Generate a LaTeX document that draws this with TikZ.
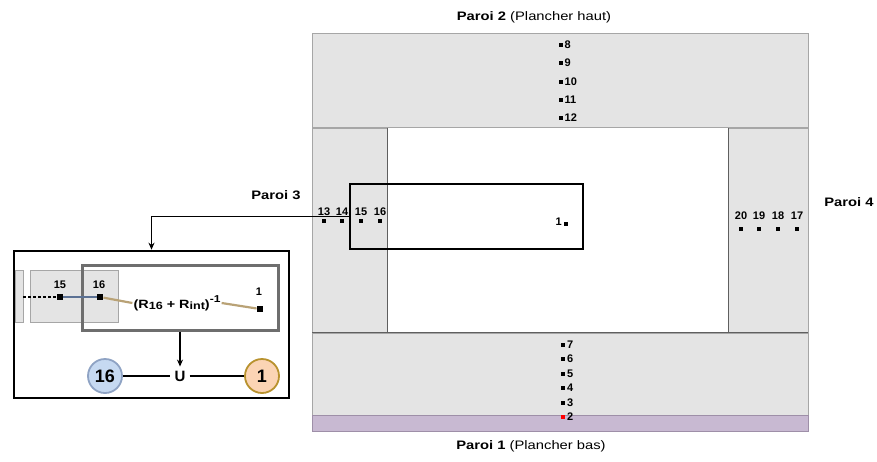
\documentclass[tikz,border=0pt]{standalone}
\usepackage{fontspec}
\setmainfont{Liberation Sans}
\newfontfamily\widefont{Liberation Sans}[FakeStretch=1.2]
\usetikzlibrary{arrows.meta}
\definecolor{panelfill}{HTML}{E4E4E4}
\definecolor{panelline}{HTML}{A6A6A6}
\definecolor{innerline}{HTML}{5F5F5F}
\definecolor{floorfill}{HTML}{C8B9D2}
\definecolor{floorline}{HTML}{9E8FA8}
\definecolor{blueline}{HTML}{5B7194}
\definecolor{tanline}{HTML}{B9A276}
\definecolor{bluefill}{HTML}{C6D9F1}
\definecolor{blueedge}{HTML}{8FA3C4}
\definecolor{peachfill}{HTML}{FBD4B4}
\definecolor{peachedge}{HTML}{B8922E}
\definecolor{boxgray}{HTML}{6E6E6E}
\begin{document}
\begin{tikzpicture}[x=1pt,y=-1pt,
  panel/.style={fill=panelfill, draw=panelline, line width=1pt},
  sq/.style={fill=black, inner sep=0pt, minimum size=4pt},
  bigsq/.style={fill=black, inner sep=0pt, minimum size=6.5pt},
  num/.style={font=\fontsize{11}{12}\selectfont\bfseries, inner sep=0pt},
  title/.style={font=\widefont\fontsize{12.3}{14}\selectfont, inner sep=0pt},
  framebox/.style={draw, line width=2.6pt, inner sep=0pt},
  conn/.style={line width=2pt},
  tip/.style={-{Stealth[length=7pt,width=6pt]}}
]
\useasboundingbox (0,0) rectangle (877,461);
% ---------- room plan ----------
\draw[panel] (312,33) rectangle (808,127);
\draw[panel] (312,128) rectangle (387,332);
\draw[panel] (728,128) rectangle (808,332);
\draw[panel] (312,333) rectangle (808,415);
\draw[fill=floorfill, draw=floorline, line width=1pt] (312,415) rectangle (808,431);
\fill[white] (387.5,128) rectangle (727.5,332);
\draw[innerline, line width=0.8pt] (387,128) -- (387,332);
\draw[innerline, line width=0.8pt] (728,128) -- (728,332);
\draw[innerline, line width=0.8pt] (312,332.5) -- (808,332.5);

% titles
\node[title] (p2) at (534,17) {\textbf{Paroi 2} (Plancher haut)};
\node[title] (p1) at (531,446) {\textbf{Paroi 1} (Plancher bas)};
\node[title] (p3) at (276,195) {\textbf{Paroi 3}};
\node[title] (p4) at (849,202) {\textbf{Paroi 4}};

% top wall 8-12
\foreach \n/\y in {8/45,9/63,10/82,11/100,12/118}{
  \node[sq] (s\n) at (561,\y) {};
  \node[num, anchor=west] (t\n) at (564.5,\y) {\n};
}
% bottom wall 7-3
\foreach \n/\y in {7/344.5,6/359,5/373.5,4/388,3/402.5}{
  \node[sq] (s\n) at (563,\y) {};
  \node[num, anchor=west] (t\n) at (567,\y) {\n};
}
\node[sq, fill=red] (s2) at (563,417) {};
\node[num, anchor=west] (t2) at (567,417) {2};
% left wall 13-16
\foreach \n/\x in {13/324,14/342,15/361,16/380}{
  \node[sq] (s\n) at (\x,221) {};
  \node[num] (t\n) at (\x,211.5) {\n};
}
% right wall 17-20
\foreach \n/\x in {20/741,19/759,18/778,17/797}{
  \node[sq] (s\n) at (\x,229) {};
  \node[num] (t\n) at (\x,216) {\n};
}
% indoor node 1
\node[sq] (s1) at (566,224) {};
\node[num, anchor=east] (t1) at (562,222) {1};

% zoom rectangle
\node[framebox, line width=2.2pt, minimum width=233pt, minimum height=65pt] (zoomrect) at (466.5,216.5) {};

% ---------- detail box ----------
\draw[fill=panelfill, draw=panelline, line width=0.8pt] (15,270) rectangle (23,322);
\draw[fill=panelfill, draw=panelline, line width=0.8pt] (30,270) rectangle (118,322);
\node[framebox, minimum width=275pt, minimum height=147pt] (detail) at (151.5,324.5) {};
\node[framebox, draw=boxgray, line width=3pt, minimum width=196pt, minimum height=65pt] (zoomgray) at (180,297.5) {};

\node[bigsq] (d15) at (60,297) {};
\node[bigsq] (d16) at (100,297) {};
\node[bigsq] (d1) at (260,309) {};
\node[num] (l15) at (60,284.5) {15};
\node[num] (l16) at (99,284.5) {16};
\node[num] (l1) at (259,292) {1};
\node[font=\widefont\fontsize{12}{14}\selectfont\bfseries, inner sep=1pt] (formula) at (177,303)
  {(R\raisebox{-0.3ex}{\fontsize{10.5}{12}\selectfont 16} + R\raisebox{-0.3ex}{\fontsize{10.5}{12}\selectfont int})\raisebox{0.9ex}{\fontsize{10}{12}\selectfont -1}};
\coordinate (dotstart) at (23,297);

\draw[line width=2.4pt, dash pattern=on 2.5pt off 2.5pt] (dotstart) -- (d15);
\draw[blueline, line width=2.2pt] (d15) -- (d16);
\draw[tanline, line width=2.2pt] (d16) -- (formula.west);
\draw[tanline, line width=2.2pt] (formula.east) -- (d1);

\node[circle, draw=blueedge, fill=bluefill, line width=1.8pt, minimum size=34pt, inner sep=0pt,
  font=\fontsize{18}{20}\selectfont\bfseries] (c16) at (105,376) {16};
\node[circle, draw=peachedge, fill=peachfill, line width=1.8pt, minimum size=34pt, inner sep=0pt,
  font=\fontsize{18}{20}\selectfont\bfseries] (c1) at (262,376) {1};
\node[font=\fontsize{15}{17}\selectfont\bfseries, inner sep=4pt] (U) at (180,376) {U};
\draw[conn] (c16) -- (U);
\draw[conn] (U) -- (c1);
\draw[line width=1.3pt, tip] (zoomgray.south) -- (U.north);

% link from plan to detail
\draw[line width=1.5pt, tip] (zoomrect.west) -| (detail.north);
\end{tikzpicture}
\end{document}
